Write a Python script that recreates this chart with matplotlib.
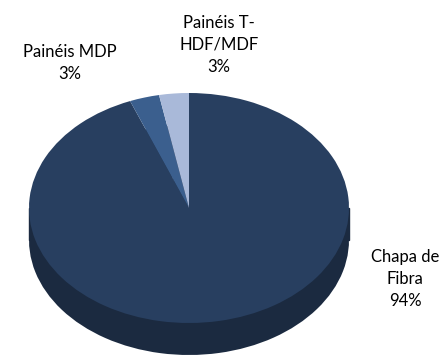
import matplotlib
matplotlib.use("Agg")
from matplotlib import pyplot as plt
from matplotlib.patches import Rectangle

# dados
categorias = ["Chapa de\nFibra", "Painéis MDP", "Painéis T-\nHDF/MDF"]
valores = [94, 3, 3]
cores = ["#283f60", "#3b5f8e", "#a9b9d9"]
cor_lateral = "#1b2a40"

plt.rcParams['font.family'] = ['Lato', 'DejaVu Sans']

fig = plt.figure(figsize=(4.45, 3.56), dpi=100)
ax = fig.add_axes([0, 0, 1, 1])

# escala: 1 unidade = 160 px na horizontal, 115 px na vertical
cx, cy = 189, 208
rx, ry = 160, 115
prof = 32 / ry

# lateral (efeito 3d)
ax.pie(valores, colors=[cor_lateral] * 3, startangle=90, counterclock=False,
       center=(0, -prof), radius=1, frame=True)
ax.add_patch(Rectangle((-1, -prof), 2, prof, color=cor_lateral, zorder=0.5))

# face superior
wedges, _ = ax.pie(valores, colors=cores, startangle=90, counterclock=False,
                   center=(0, 0), radius=1, frame=True)
for w in wedges:
    w.set_zorder(2)

ax.set_xlim(-cx / rx, (445 - cx) / rx)
ax.set_ylim(-(356 - cy) / ry, cy / ry)
ax.set_aspect("auto")
ax.axis("off")

# rótulos
pos = [(405, 279), (70, 63), (219, 45)]
for cat, v, (px, py) in zip(categorias, valores, pos):
    ax.text((px - cx) / rx, (cy - py) / ry, "{}\n{}%".format(cat, v),
            ha="center", va="center", fontsize=12, linespacing=1.45,
            color="black")

fig.savefig("out.png", dpi=100)
